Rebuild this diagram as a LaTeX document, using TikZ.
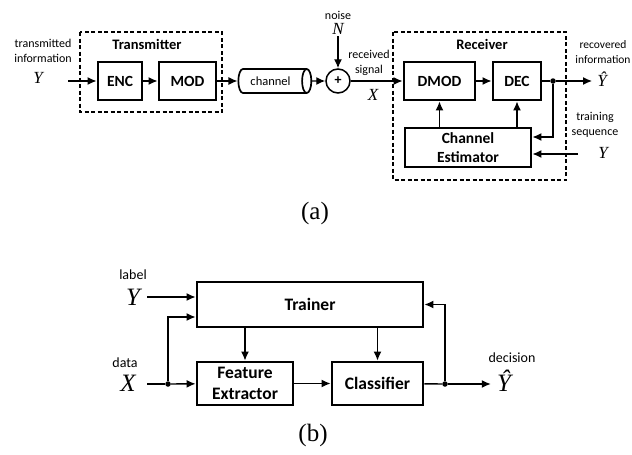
\documentclass[tikz,border=0pt]{standalone}
\usepackage{fontspec}
\usepackage{amsmath}
\usetikzlibrary{arrows.meta, shapes.geometric, positioning, calc}
\newfontfamily\lblfont{Carlito}
\newfontfamily\capfont{Liberation Serif}
\newfontfamily\varfont{Liberation Serif}[UprightFont=*-Italic]

\begin{document}
\begin{tikzpicture}[x=1pt,y=-1pt,
	blk/.style={draw,line width=2.8pt,align=center,inner sep=0pt,font=\lblfont\bfseries\fontsize{15.5}{17}\selectfont},
	bigblk/.style={blk,font=\lblfont\bfseries\fontsize{17.5}{21}\selectfont},
	grp/.style={draw,line width=1.2pt,dash pattern=on 4pt off 2.5pt},
	grplbl/.style={font=\lblfont\bfseries\fontsize{14.5}{16}\selectfont,inner sep=0pt},
	lbl/.style={font=\lblfont\fontsize{12}{15}\selectfont,align=center,inner sep=0pt},
	biglbl/.style={font=\lblfont\fontsize{14}{16}\selectfont,inner sep=0pt},
	sym/.style={font=\varfont\fontsize{17}{17}\selectfont,inner sep=0pt},
	bigsym/.style={font=\varfont\fontsize{25}{25}\selectfont,inner sep=0pt},
	arr/.style={-{Latex[length=9pt,width=8pt]},line width=1.4pt},
	dot/.style={circle,fill,inner sep=0pt,minimum size=5.5pt},
	figcap/.style={font=\capfont\fontsize{25}{25}\selectfont}
]
	\useasboundingbox (0,0) rectangle (632,455);

	% (a) transmitter, channel, receiver
	\draw[grp] (80,32) rectangle (222,112);
	\node[grplbl] (txlbl) at (147,44) {Transmitter};
	\node[blk,minimum width=44pt,minimum height=38pt] (enc) at (120,81) {ENC};
	\node[blk,minimum width=57pt,minimum height=38pt] (mod) at (187.5,81) {MOD};
	\node[lbl] (txt) at (43,51) {transmitted\\information};
	\node[sym] (ytx) at (38,78) {Y};
	\coordinate (yin) at (68,81);
	\node[cylinder,draw,line width=1.7pt,minimum width=24pt,minimum height=73pt,aspect=0.6,
		font=\lblfont\fontsize{12.5}{14}\selectfont] (chan) at (270.5,81) {channel};
	\node[circle,draw,line width=1.5pt,minimum size=24pt,inner sep=0pt,font=\lblfont\bfseries\fontsize{14}{14}\selectfont] (sum) at (338,81) {+};
	\node[lbl] (noise) at (338,15) {noise};
	\node[sym] (nn) at (338,29) {N};
	\coordinate (nin) at (338,36);
	\node[lbl] (rxs) at (369,63) {received\\signal};
	\node[sym] (xx) at (373,95) {X};

	\draw[grp] (393,32) rectangle (566,180);
	\node[grplbl] (rxlbl) at (482,44) {Receiver};
	\node[blk,minimum width=71pt,minimum height=38pt] (dmod) at (439.5,81) {DMOD};
	\node[blk,minimum width=48pt,minimum height=38pt] (dec) at (517,81) {DEC};
	\node[blk,minimum width=126pt,minimum height=39pt,font=\lblfont\bfseries\fontsize{15.5}{19}\selectfont] (est) at (468,147.5) {Channel\\Estimator};
	\node[dot] (rdot) at (553,81) {};
	\node[sym,inner sep=5pt] (yhat) at (602,79) {Ŷ};
	\node[lbl,font=\lblfont\fontsize{11.5}{15}\selectfont] (rec) at (603,52) {recovered\\information};
	\node[lbl] (trn) at (595,125) {training\\sequence};
	\node[sym] (ytr) at (603,153) {Y};
	\coordinate (trin) at (578,154);

	\draw[arr] (yin) -- (enc);
	\draw[arr] (enc) -- (mod);
	\draw[arr] (mod) -- (chan);
	\draw[arr] (chan) -- (sum);
	\draw[arr] (nin) -- (sum);
	\draw[arr] (sum) -- (dmod);
	\draw[arr] (dmod) -- (dec);
	\draw[line width=1.4pt] (dec) -- (rdot);
	\draw[arr] (rdot) -- (rdot -| yhat.west);
	\draw[arr] (rdot) |- ($(est.east)+(0,-10.5)$);
	\draw[arr] (trin) -- ($(est.east)+(0,6.5)$);
	\draw[arr] (dmod.south |- est.north) -- (dmod.south);
	\draw[arr] (dec.south |- est.north) -- (dec.south);

	\node[figcap] (capa) at (315,213) {(a)};

	% (b) learning system
	\node[bigblk,minimum width=226pt,minimum height=45pt] (trainer) at (310,304.5) {Trainer};
	\node[bigblk,minimum width=96pt,minimum height=43pt] (feat) at (245,383.5) {Feature\\Extractor};
	\node[bigblk,minimum width=91pt,minimum height=43pt] (clf) at (377.5,383.5) {Classifier};
	\node[biglbl] (lab) at (133,275) {label};
	\node[bigsym] (yb) at (133,297) {Y};
	\coordinate (ybin) at (147,297);
	\node[biglbl] (dat) at (125,363) {data};
	\node[bigsym] (xb) at (128,383) {X};
	\coordinate (xbin) at (147,384);
	\node[dot] (ldot) at (168,384) {};
	\node[dot] (cdot) at (445,384) {};
	\node[bigsym,inner sep=6pt] (yhb) at (504,381) {Ŷ};
	\node[biglbl] (dcs) at (512,358) {decision};

	\draw[arr] (ybin) -- (ybin -| trainer.west);
	\draw[line width=1.4pt] (xbin) -- (ldot);
	\draw[arr] (ldot) -- (feat);
	\draw[arr] (ldot) |- ($(trainer.west)+(0,12.5)$);
	\draw[arr] (feat.north |- trainer.south) -- (feat.north);
	\draw[arr] (clf.north |- trainer.south) -- (clf.north);
	\draw[arr] (feat) -- (clf);
	\draw[line width=1.4pt] (clf) -- (cdot);
	\draw[arr] (cdot) -- (cdot -| yhb.west);
	\draw[arr] (cdot) |- (trainer.east);

	\node[figcap] (capb) at (313,435) {(b)};
\end{tikzpicture}
\end{document}
